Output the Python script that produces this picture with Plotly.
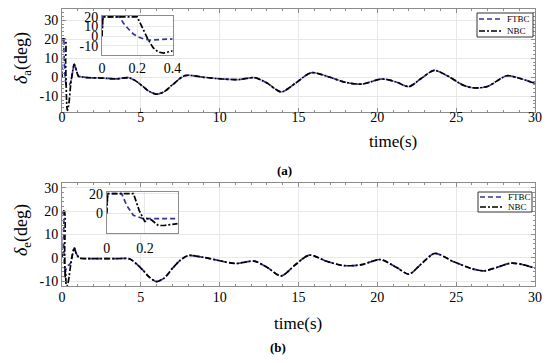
import plotly.graph_objects as go

# ---------------- data ----------------
# (a) aileron deflection
t_a_ftbc = [0, 0.005, 0.1, 0.12, 0.15, 0.18, 0.21, 0.24, 0.27, 0.4, 0.5, 0.6, 0.7, 0.78, 0.9, 1.05,
            1.2, 1.6, 2.5, 3.5, 4.2, 4.6, 5.1, 5.5, 6.0, 6.5, 7.0, 7.8, 9.0, 10.2, 11.2, 12.2, 13.0, 13.9,
            14.8, 15.8, 17.0, 17.9, 19.0, 20.3, 21.2, 22.0, 22.8, 23.6, 24.5, 25.4, 26.1, 27.0, 28.2, 29.0, 30]
a_ftbc = [0, 20, 20, 14, 7.5, 2, -1, -3, -4, -4, -3.5, -1, 4, 7, 4, 0.5,
          0.3, -0.2, -0.4, -0.8, -0.2, -1.5, -4.6, -7.3, -8.9, -7.5, -4, 0.9, 0, -0.9, -1.2, -0.2, -3, -7.7,
          -3.2, 2.4, 0, -2.5, -3.6, -0.9, -2.5, -4.9, -0.5, 3.6, 0.5, -4.0, -5.6, -4.8, 0.8, -0.5, -3.2]

t_a_nbc = [0, 0.005, 0.2, 0.23, 0.26, 0.29, 0.32, 0.35, 0.38, 0.4, 0.45, 0.55, 0.65, 0.78, 0.9, 1.05,
           1.2, 1.6, 2.5, 3.5, 4.2, 4.6, 5.1, 5.5, 6.0, 6.5, 7.0, 7.8, 9.0, 10.2, 11.2, 12.2, 13.0, 13.9,
           14.8, 15.8, 17.0, 17.9, 19.0, 20.3, 21.2, 22.0, 22.8, 23.6, 24.5, 25.4, 26.1, 27.0, 28.2, 29.0, 30]
a_nbc = [0, 20, 20, 8, -3, -12, -16.5, -17.5, -16.5, -15.5, -13, -4, 2, 7, 4, 0.5,
         0.3, -0.2, -0.4, -0.8, -0.2, -1.5, -4.6, -7.3, -8.9, -7.5, -4, 0.9, 0, -0.9, -1.2, -0.2, -3, -7.7,
         -3.2, 2.4, 0, -2.5, -3.6, -0.9, -2.5, -4.9, -0.5, 3.6, 0.5, -4.0, -5.6, -4.8, 0.8, -0.5, -3.2]

# (b) elevator deflection
t_e_ftbc = [0, 0.005, 0.078, 0.104, 0.139, 0.19, 0.25, 0.3, 0.37, 0.45, 0.55, 0.65, 0.78, 0.9, 1.1,
            1.6, 2.5, 3.5, 4.3, 5.1, 5.5, 6.0, 6.5, 7.0, 7.5, 8.0, 9.0, 10.0, 11.0, 12.2, 13.0, 13.9,
            14.8, 15.7, 16.8, 17.9, 19.0, 20.2, 21.2, 22.0, 22.8, 23.65, 24.8, 26.0, 26.8, 27.6, 28.5, 29.3, 30]
e_ftbc = [0, 20, 20, 8.3, -1.7, -5, -5, -4, -3.3, -3, -2, 1, 4.3, 2, 0,
          -0.3, -0.3, -0.3, -0.5, -5, -8, -10.1, -8.5, -4.5, -1, 1.0, 0.2, -1.2, -2.4, -1.4, -4, -7.7,
          -2.9, 1.2, -1.5, -3.3, -2.9, -0.7, -4, -6.9, -2.5, 1.9, -1.5, -4.6, -5.5, -4, -2.2, -3, -4.4]

t_e_nbc = [0, 0.005, 0.14, 0.17, 0.2, 0.21, 0.235, 0.27, 0.3, 0.37, 0.45, 0.55, 0.65, 0.78, 0.9, 1.1,
           1.6, 2.5, 3.5, 4.3, 5.1, 5.5, 6.0, 6.5, 7.0, 7.5, 8.0, 9.0, 10.0, 11.0, 12.2, 13.0, 13.9,
           14.8, 15.7, 16.8, 17.9, 19.0, 20.2, 21.2, 22.0, 22.8, 23.65, 24.8, 26.0, 26.8, 27.6, 28.5, 29.3, 30]
e_nbc = [0, 20, 20, 3, -8.4, -5, -6.5, -12, -12, -11, -8, -3, 1, 4.3, 2, 0,
         -0.3, -0.3, -0.3, -0.5, -5, -8, -10.1, -8.5, -4.5, -1, 1.0, 0.2, -1.2, -2.4, -1.4, -4, -7.7,
         -2.9, 1.2, -1.5, -3.3, -2.9, -0.7, -4, -6.9, -2.5, 1.9, -1.5, -4.6, -5.5, -4, -2.2, -3, -4.4]

series_names = ["FTBC", "NBC"]
main_xticks = [0, 5, 10, 15, 20, 25, 30]
main_yticks = [-10, 0, 10, 20, 30]
main_yticktext = ["-10", "0", "10", "20", "30"]
inset_a_yticks = [-10, 0, 10, 20]
inset_a_yticktext = ["-10", "0", "10", "20"]
inset_a_xticks = [0, 0.2, 0.4]
inset_b_yticks = [-20, 0, 20]
inset_b_yticktext = ["-20", "0", "20"]
inset_b_xticks = [0, 0.2]

# ---------------- style ----------------
FONT = "Liberation Serif, Times New Roman, DejaVu Serif, serif"
BLUE = "#33339c"
FRAME = "#8c8c8c"
W, H = 550, 363
FT_DASH = "5px,3px"
NB_DASH = "6px,2px,2px,2px"
LW = 1.7


def px(x):
    return x / W


def py(y):
    return 1 - y / H


fig = go.Figure()

line_ft = dict(color=BLUE, width=LW, dash=FT_DASH)
line_nb = dict(color="black", width=LW, dash=NB_DASH)

# main (a)
fig.add_trace(go.Scatter(x=t_a_ftbc, y=a_ftbc, mode="lines", name=series_names[0],
                         line=dict(line_ft, shape="spline", smoothing=0.8), xaxis="x", yaxis="y"))
fig.add_trace(go.Scatter(x=t_a_nbc, y=a_nbc, mode="lines", name=series_names[1],
                         line=dict(line_nb, shape="spline", smoothing=0.8), xaxis="x", yaxis="y"))
# main (b)
fig.add_trace(go.Scatter(x=t_e_ftbc, y=e_ftbc, mode="lines", name=series_names[0],
                         line=dict(line_ft, shape="spline", smoothing=0.8), xaxis="x2", yaxis="y2"))
fig.add_trace(go.Scatter(x=t_e_nbc, y=e_nbc, mode="lines", name=series_names[1],
                         line=dict(line_nb, shape="spline", smoothing=0.8), xaxis="x2", yaxis="y2"))
# insets
fig.add_trace(go.Scatter(x=t_a_ftbc, y=a_ftbc, mode="lines", line=line_ft, xaxis="x3", yaxis="y3"))
fig.add_trace(go.Scatter(x=t_a_nbc, y=a_nbc, mode="lines", line=line_nb, xaxis="x3", yaxis="y3"))
fig.add_trace(go.Scatter(x=t_e_ftbc, y=e_ftbc, mode="lines", line=line_ft, xaxis="x4", yaxis="y4"))
fig.add_trace(go.Scatter(x=t_e_nbc, y=e_nbc, mode="lines", line=line_nb, xaxis="x4", yaxis="y4"))

axis_common = dict(showline=True, linecolor=FRAME, linewidth=1, mirror="ticks",
                   ticks="inside", ticklen=4, tickcolor=FRAME, automargin=False,
                   showgrid=True, gridcolor="#e8e8e8", gridwidth=1, zeroline=False,
                   tickfont=dict(family=FONT, size=14, color="black"))
minor_x = dict(dtick=1, ticks="inside", ticklen=2, tickcolor=FRAME, showgrid=False)
minor_y = dict(dtick=2, ticks="inside", ticklen=2, tickcolor=FRAME, showgrid=False)

fig.update_layout(
    template="none",
    width=W, height=H, margin=dict(l=0, r=0, t=0, b=0, autoexpand=False),
    paper_bgcolor="white", plot_bgcolor="white",
    font=dict(family=FONT, color="black"),
    showlegend=False,
    xaxis=dict(axis_common, domain=[px(62), px(535)], range=[0, 30], anchor="y",
               tickvals=main_xticks, minor=minor_x, ticklabelstandoff=-8),
    yaxis=dict(axis_common, domain=[py(112), py(9)], range=[-18.3, 36], anchor="x",
               tickvals=main_yticks, ticktext=main_yticktext, minor=minor_y),
    xaxis2=dict(axis_common, domain=[px(62), px(535)], range=[0, 30], anchor="y2",
                tickvals=main_xticks, minor=minor_x, ticklabelstandoff=-2),
    yaxis2=dict(axis_common, domain=[py(286), py(183)], range=[-12, 32], anchor="x2",
                tickvals=main_yticks, ticktext=main_yticktext, minor=minor_y),
    xaxis3=dict(axis_common, domain=[px(102), px(172.5)], range=[0, 0.4], anchor="y3",
                tickvals=inset_a_xticks, ticks="", ticklabelstandoff=1),
    yaxis3=dict(axis_common, domain=[py(54.5), py(16)], range=[-19, 21], anchor="x3",
                tickvals=inset_a_yticks, ticktext=inset_a_yticktext, ticks=""),
    xaxis4=dict(axis_common, domain=[px(106.7), px(177.5)], range=[0, 0.37], anchor="y4",
                tickvals=inset_b_xticks, ticks="", ticklabelstandoff=2),
    yaxis4=dict(axis_common, domain=[py(233), py(192)], range=[-19.5, 21.6], anchor="x4",
                tickvals=inset_b_yticks, ticktext=inset_b_yticktext, ticks=""),
)

ann = [
    dict(text="<i>δ</i><sub>a</sub>(deg)", x=px(22), y=py(58), textangle=-90, size=18),
    dict(text="<i>δ</i><sub>e</sub>(deg)", x=px(22), y=py(230), textangle=-90, size=18),
    dict(text="time(s)", x=px(393), y=py(141), textangle=0, size=17),
    dict(text="time(s)", x=px(298), y=py(323), textangle=0, size=17),
    dict(text="<b>(a)</b>", x=px(284), y=py(170), textangle=0, size=13),
    dict(text="<b>(b)</b>", x=px(278), y=py(347), textangle=0, size=13),
]
for a in ann:
    fig.add_annotation(text=a["text"], x=a["x"], y=a["y"], xref="paper", yref="paper",
                       xanchor="center", yanchor="middle", showarrow=False, textangle=a["textangle"],
                       font=dict(family=FONT, size=a["size"], color="black"))

# compact legends (box, sample lines, labels) for both panels
for (bx0, by0, bx1, by1) in [(477, 13, 533, 37), (478, 192, 532, 212)]:
    fig.add_shape(type="rect", xref="paper", yref="paper", x0=px(bx0), x1=px(bx1),
                  y0=py(by1), y1=py(by0), line=dict(color="#333", width=1), fillcolor="white", layer="above")
    n = len(series_names)
    step = (by1 - by0) / n
    for i, (name, ln) in enumerate(zip(series_names, [line_ft, line_nb])):
        yc = by0 + step * (i + 0.5)
        fig.add_shape(type="line", xref="paper", yref="paper", x0=px(bx0 + 2), x1=px(bx0 + 26),
                      y0=py(yc), y1=py(yc), line=dict(color=ln["color"], width=1.5, dash=ln["dash"]),
                      layer="above")
        fig.add_annotation(text=name, x=px(bx0 + 28), y=py(yc), xref="paper", yref="paper",
                           xanchor="left", yanchor="middle", showarrow=False,
                           font=dict(family=FONT, size=9, color="black"))

fig.write_html("out.html", config={"displayModeBar": False},
               post_script="document.body.style.margin='0px';")
